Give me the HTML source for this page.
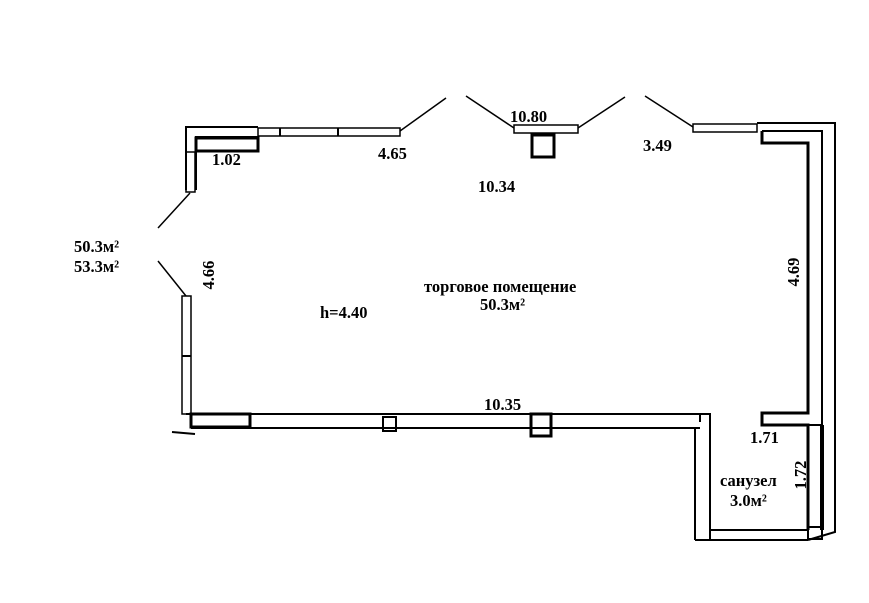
<!DOCTYPE html>
<html><head><meta charset="utf-8"><style>
html,body{margin:0;padding:0;background:#fff;width:869px;height:603px;overflow:hidden}
text{font-family:"Liberation Serif",serif;font-weight:bold;fill:#000}
</style></head><body>
<svg width="869" height="603" viewBox="0 0 869 603" xmlns="http://www.w3.org/2000/svg">
<g fill="none" stroke="#000" stroke-width="2">
<path d="M186,190 L186,127 L258,127 M196,190 L196,137 L258,137"/>
<rect x="196" y="138" width="62" height="13" stroke-width="3"/>
<rect x="258" y="128" width="142" height="8" stroke-width="1.5"/>
<line x1="280" y1="128" x2="280" y2="136"/><line x1="338" y1="128" x2="338" y2="136"/>
<rect x="186" y="152" width="9" height="40" stroke-width="1.5"/>
<line x1="400" y1="131" x2="446" y2="98" stroke-width="1.5"/>
<line x1="190" y1="193" x2="158" y2="228" stroke-width="1.5"/>
<line x1="158" y1="261" x2="186" y2="296" stroke-width="1.5"/>
<rect x="182" y="296" width="9" height="118" stroke-width="1.5"/>
<line x1="182" y1="356" x2="191" y2="356"/>
<line x1="466" y1="96" x2="514" y2="128" stroke-width="1.5"/>
<rect x="514" y="125" width="64" height="8" stroke-width="1.5"/>
<line x1="578" y1="128" x2="625" y2="97" stroke-width="1.5"/>
<rect x="532" y="135" width="22" height="22" stroke-width="3"/>
<line x1="645" y1="96" x2="693" y2="127" stroke-width="1.5"/>
<rect x="693" y="124" width="64" height="8" stroke-width="1.5"/>
<path d="M757,123 L835,123 L835,532 L808,540"/>
<path d="M762,131 L822,131 L822,532"/>
<path d="M762,131 L762,143 L808,143 L808,413 L762,413 L762,425 L808,425 L808,530" stroke-width="3"/>
<line x1="822" y1="425" x2="808" y2="425"/>
<path d="M186,414 L700,414 L700,422 M191,428 L700,428"/>
<rect x="191" y="414" width="59" height="13" stroke-width="3"/>
<rect x="383" y="417" width="13" height="14" stroke-width="2"/>
<rect x="531" y="414" width="20" height="22" stroke-width="3"/>
<path d="M700,414 L710,414 L710,530 L808,530 M695,428 L695,540 M172,432 L195,434"/>
<path d="M695,540 L808,540 M710,530 L710,540"/>
<rect x="808" y="527" width="14" height="12" stroke-width="2"/>
</g>
<line x1="822" y1="425" x2="822" y2="530" stroke="#000" stroke-width="4"/>
<g font-size="16.5">
<text x="212" y="165">1.02</text>
<text x="378" y="159">4.65</text>
<text x="510" y="122">10.80</text>
<text x="643" y="151">3.49</text>
<text x="478" y="192">10.34</text>
<text x="74" y="252">50.3м²</text>
<text x="74" y="272">53.3м²</text>
<text x="214" y="275" transform="rotate(-90 214 275)" text-anchor="middle">4.66</text>
<text x="320" y="318">h=4.40</text>
<text x="424" y="292">торговое помещение</text>
<text x="480" y="310">50.3м²</text>
<text x="799" y="272" transform="rotate(-90 799 272)" text-anchor="middle">4.69</text>
<text x="484" y="410">10.35</text>
<text x="750" y="443">1.71</text>
<text x="720" y="486">санузел</text>
<text x="730" y="506">3.0м²</text>
<text x="806" y="475" transform="rotate(-90 806 475)" text-anchor="middle">1.72</text>
</g>
</svg>
</body></html>
